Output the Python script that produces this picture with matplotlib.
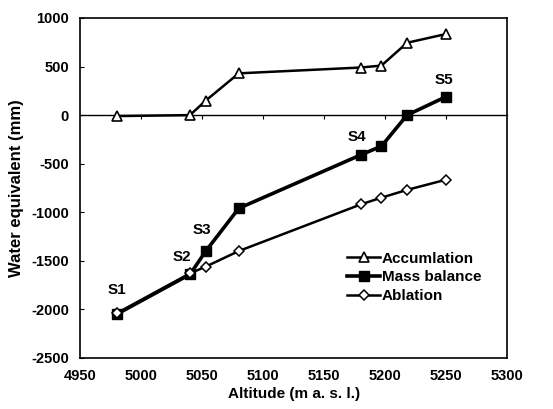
import matplotlib
matplotlib.use("Agg")
import matplotlib.pyplot as plt

# altitudes (m a.s.l.) of the stakes
altitude = [4980, 5040, 5053, 5080, 5180, 5197, 5218, 5250]

# water equivalent (mm)
accumulation = [-10, 0, 150, 430, 490, 510, 745, 835]
mass_balance = [-2050, -1640, -1400, -960, -410, -320, 0, 190]
ablation = [-2040, -1630, -1560, -1400, -920, -850, -770, -665]

# site labels and where they sit
site_names = ["S1", "S2", "S3", "S4", "S5"]
site_x = [4980, 5033, 5050, 5177, 5248]
site_y = [-1800, -1460, -1185, -225, 360]

plt.rcParams["font.family"] = ["Liberation Sans", "DejaVu Sans"]
plt.rcParams["font.weight"] = "bold"
plt.rcParams["axes.unicode_minus"] = False

fig = plt.figure(figsize=(5.53, 4.09), dpi=100)
ax = fig.add_axes([0.145, 0.125, 0.772, 0.831])

ax.plot(altitude, accumulation, color="black", lw=1.8, marker="^", ms=7.5,
        mfc="white", mec="black", mew=1.2, label="Accumlation", zorder=3)
ax.plot(altitude, mass_balance, color="black", lw=2.6, marker="s", ms=7,
        mfc="black", mec="black", label="Mass balance", zorder=2)
ax.plot(altitude, ablation, color="black", lw=1.8, marker="D", ms=5,
        mfc="white", mec="black", mew=1.1, label="Ablation", zorder=4)

for name, sx, sy in zip(site_names, site_x, site_y):
    ax.text(sx, sy, name, ha="center", va="center", fontsize=11, fontweight="bold")

ax.set_xlim(4950, 5300)
ax.set_ylim(-2500, 1000)
ax.set_xticks(range(4950, 5301, 50))
ax.set_yticks(range(-2500, 1001, 500))
ax.tick_params(axis="x", length=0, labelsize=10.5, pad=8)
ax.tick_params(axis="y", direction="in", length=3, labelsize=10.5, pad=8)

# zero line with its own small ticks (axis crosses at 0)
zero_ax = ax.secondary_xaxis(2500 / 3500)
zero_ax.set_xticks(range(5000, 5251, 50))
zero_ax.tick_params(axis="x", direction="in", length=3, width=0.8, labelbottom=False,
                    labeltop=False)
zero_ax.spines["bottom"].set_linewidth(1.0)
zero_ax.spines["top"].set_linewidth(1.0)

for sp in ax.spines.values():
    sp.set_linewidth(1.2)

ax.set_xlabel("Altitude (m a. s. l.)", fontsize=11, fontweight="bold", labelpad=3)
ax.set_ylabel("Water equivalent (mm)", fontsize=12, fontweight="bold", labelpad=5)

leg = ax.legend(loc="upper left", bbox_to_anchor=(0.61, 0.33), frameon=False,
                fontsize=11, handlelength=2.2, handletextpad=0.1, labelspacing=0.3,
                borderaxespad=0)

fig.savefig("out.png", dpi=100)
